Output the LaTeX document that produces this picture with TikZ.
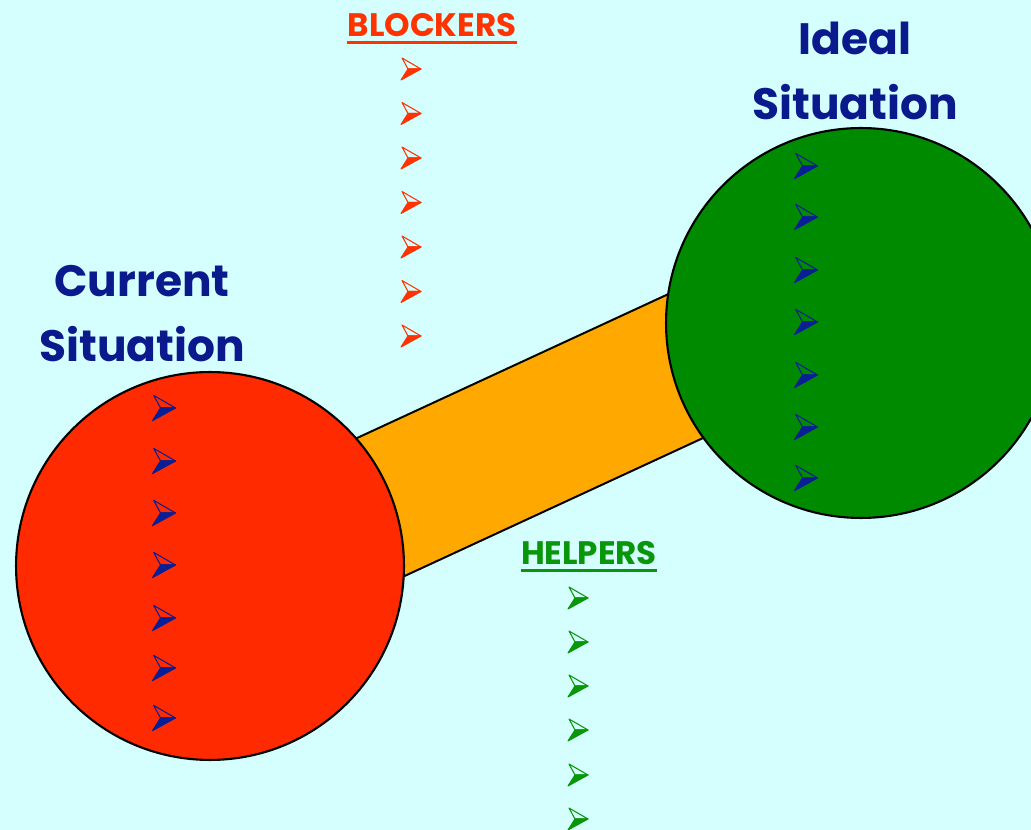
\documentclass[tikz,border=0pt]{standalone}
\usepackage{fontspec}
\setmainfont{Poppins}
\usepackage{tikz}
\definecolor{bgcyan}{HTML}{D5FFFF}
\definecolor{currentred}{HTML}{FF2A00}
\definecolor{idealgreen}{HTML}{008A00}
\definecolor{barorange}{HTML}{FFA800}
\definecolor{sitblue}{HTML}{0A1A8C}
\definecolor{blockred}{HTML}{FF3300}
\definecolor{helpgreen}{HTML}{0A960A}
\definecolor{bulblue}{HTML}{0A1E96}
\tikzstyle{sitcircle} = [draw=black, line width=1.2pt, circle, inner sep=0pt]
\tikzstyle{sittitle} = [text=sitblue, font=\fontsize{25}{37}\selectfont\bfseries, align=center]
\tikzstyle{listtitle} = [font=\fontsize{18.5}{20}\selectfont\bfseries, inner sep=0pt]
\tikzset{bullet/.pic={
    \draw[line width=0.6pt, line join=round] (-9,-11) -- (10,0) -- (-3,0) -- cycle;
    \filldraw[line width=0.6pt, line join=round] (-3,0) -- (10,0) -- (-10,11) -- cycle;
}}

\begin{document}
\begin{tikzpicture}[x=0.02cm, y=-0.02cm]
    \useasboundingbox (0,0) rectangle (1031,830);
    \fill[bgcyan] (0,0) rectangle (1031,830);
    \clip (0,0) rectangle (1031,830);
    % band between the two situations
    \coordinate (barA) at (210,586);
    \coordinate (barB) at (861,285);
    \draw[line width=1.2pt, double=barorange, double distance=2.86cm] (barA) -- (barB);
    % the two situations
    \node[sitcircle, fill=currentred, minimum size=7.76cm] (current) at (210,566) {};
    \node[sitcircle, fill=idealgreen, minimum size=7.8cm] (ideal) at (861,323) {};
    \node[sittitle] (currenttitle) at (142,314) {Current\\Situation};
    \node[sittitle] (idealtitle) at (855,71) {Ideal\\Situation};
    % blockers and helpers
    \node[listtitle, text=blockred] (blockers) at (432,25) {BLOCKERS};
    \draw[blockred, line width=1.6pt] ([yshift=-3pt]blockers.south west) -- ([yshift=-3pt]blockers.south east);
    \node[listtitle, text=helpgreen] (helpers) at (589,553) {HELPERS};
    \draw[helpgreen, line width=1.6pt] ([yshift=-3pt]helpers.south west) -- ([yshift=-3pt]helpers.south east);
    \foreach \y in {69,113.5,158,202.5,247,291.5,336}
        \pic[color=blockred] at (411,\y) {bullet};
    \foreach \y in {598,642,686,730,775,819}
        \pic[color=helpgreen] at (578,\y) {bullet};
    \foreach \y in {408,461,513,565,618,668,718}
        \pic[color=bulblue, scale=1.15] at (164,\y) {bullet};
    \foreach \y in {166,217,270,322,375,427,478}
        \pic[color=bulblue, scale=1.15] at (806,\y) {bullet};
\end{tikzpicture}
\end{document}
